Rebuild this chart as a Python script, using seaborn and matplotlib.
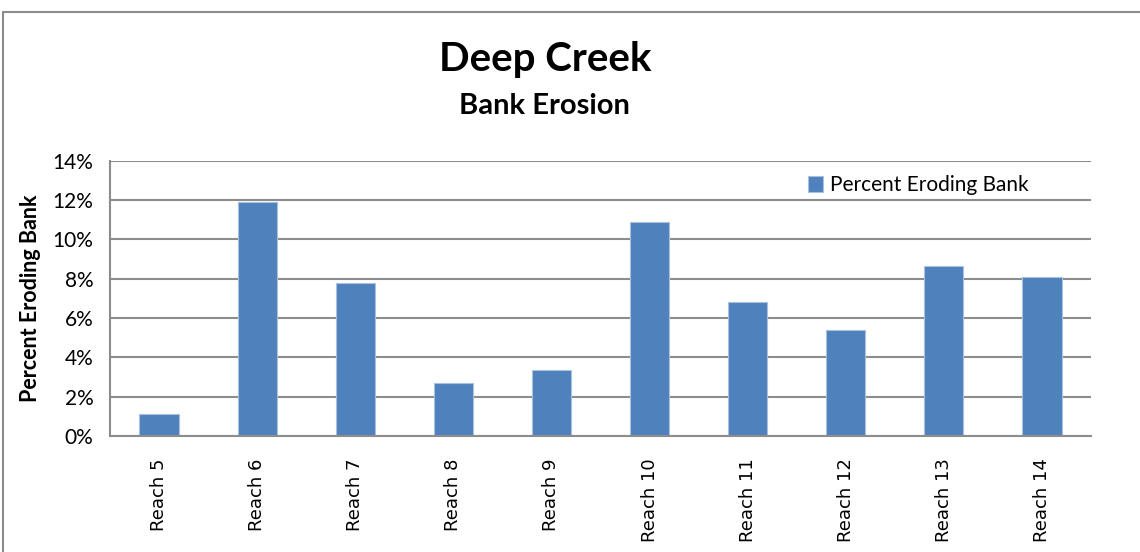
import matplotlib
matplotlib.use("Agg")
import matplotlib.pyplot as plt
import seaborn as sns
import pandas as pd
from matplotlib.lines import Line2D
from matplotlib.ticker import FuncFormatter, FixedLocator

categories = ["Reach 5", "Reach 6", "Reach 7", "Reach 8", "Reach 9",
              "Reach 10", "Reach 11", "Reach 12", "Reach 13", "Reach 14"]
values = [1.1, 11.9, 7.8, 2.7, 3.35, 10.9, 6.8, 5.4, 8.65, 8.1]
series_name = "Percent Eroding Bank"

df = pd.DataFrame({"Reach": categories, "Value": values, "Series": series_name})

sns.set_style("white")
plt.rcParams["font.family"] = ["Lato", "DejaVu Sans"]
plt.rcParams["text.color"] = "black"
plt.rcParams["xtick.color"] = "black"
plt.rcParams["ytick.color"] = "black"
plt.rcParams["axes.labelcolor"] = "black"

fig = plt.figure(figsize=(11.4, 5.52), dpi=100)
ax = fig.add_axes([0.0965, 0.2101, 0.8605, 0.4989])

sns.barplot(data=df, x="Reach", y="Value", hue="Series", palette=["#4F81BD"],
            width=0.4, ax=ax, edgecolor="#A9C0DE", linewidth=0.8, saturation=1)

ax.set_ylim(0, 14)
ax.set_xlim(-0.5, len(categories) - 0.5)
ax.set_yticks(range(0, 15, 2))
ax.yaxis.set_major_formatter(FuncFormatter(lambda v, p: f"{int(v)}%"))
ax.grid(axis="y", color="#8C8C8C", linewidth=1.5)
ax.set_axisbelow(True)

for s in ["top", "right"]:
    ax.spines[s].set_visible(False)
ax.spines["left"].set_color("#8C8C8C")
ax.spines["bottom"].set_color("#8C8C8C")
ax.spines["left"].set_linewidth(1.5)
ax.spines["bottom"].set_linewidth(1.5)

ax.tick_params(axis="y", which="major", length=6, color="#8C8C8C", width=1.5,
               labelsize=15, pad=6, labelcolor="black")
ax.tick_params(axis="x", which="major", length=0, labelsize=13, pad=16,
               labelrotation=90, labelcolor="black")
ax.xaxis.set_minor_locator(FixedLocator([i - 0.5 for i in range(len(categories) + 1)]))
ax.tick_params(axis="x", which="minor", length=7, color="#8C8C8C", width=1.5)
for lab in ax.get_xticklabels():
    lab.set_family(["DejaVu Sans"])
    lab.set_va("top")

ax.set_xlabel("")
ax.set_ylabel("Percent Eroding Bank", fontsize=15.5, fontweight="bold", labelpad=8)

leg = ax.legend(loc="upper right", bbox_to_anchor=(0.956, 1.015), frameon=False,
                fontsize=15, handlelength=0.75, handleheight=0.75, handletextpad=0.35)

fig.text(0.478, 0.893, "Deep Creek", ha="center", va="center", fontsize=29,
         fontweight="bold")
fig.text(0.478, 0.808, "Bank Erosion", ha="center", va="center", fontsize=21,
         fontweight="bold")

fig.add_artist(Line2D([3/1140, 3/1140], [0, 1 - 12/552], transform=fig.transFigure,
                      color="#8C8C8C", linewidth=1.5))
fig.add_artist(Line2D([3/1140, 1], [1 - 12/552, 1 - 12/552], transform=fig.transFigure,
                      color="#8C8C8C", linewidth=1.5))

fig.savefig("out.png", dpi=100)
